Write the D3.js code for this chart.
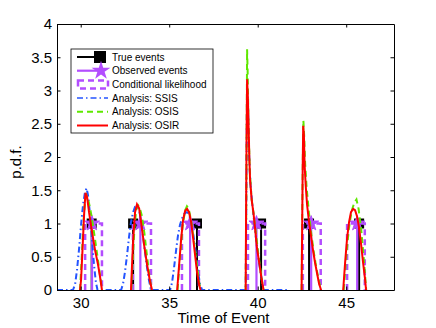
<!DOCTYPE html>
<html lang="en">

<head>
    <meta charset="UTF-8">
    <title>Time of Event p.d.f.</title>
    <script src="https://cdn.jsdelivr.net/npm/d3@7/dist/d3.min.js"></script>
    <style>
        body { margin: 0; background: #fff; }
        svg text { font-family: 'Liberation Sans', Arial, Helvetica, sans-serif; }
    </style>
</head>

<body>
    <svg width="436" height="328" id="mainsvg"></svg>
</body>
<script>
    // event times
    const trueEvents = [30.62, 32.96, 36.57, 40.19, 42.90, 45.73];
    const observedEvents = [30.64, 33.37, 36.18, 39.93, 43.02, 45.62];
    // conditional likelihood bars (left / right edge, height)
    const likeLeft = [30.25, 32.95, 35.72, 39.45, 42.55, 45.05];
    const likeRight = [31.20, 33.97, 36.68, 40.42, 43.56, 46.05];
    const likeHeight = [1, 1, 1, 1, 1, 1];

    // Analysis: SSIS (one trace, flat between events, stops after 4th event)
    const ssis = [
        [28.66, 0], [29.56, 0], [29.68, 0.08], [29.79, 0.30], [29.90, 0.60], [30.02, 0.98], [30.13, 1.28],
        [30.24, 1.47], [30.33, 1.53], [30.41, 1.43], [30.53, 1.13], [30.64, 0.75], [30.75, 0.38],
        [30.86, 0.11], [30.95, 0],
        [32.28, 0], [32.39, 0.09], [32.50, 0.27], [32.62, 0.53], [32.73, 0.80], [32.84, 1.02], [32.96, 1.17],
        [33.07, 1.25], [33.18, 1.26], [33.30, 1.20], [33.41, 1.05], [33.52, 0.81], [33.64, 0.56],
        [33.75, 0.33], [33.86, 0.14], [33.97, 0],
        [35.05, 0], [35.16, 0.11], [35.27, 0.33], [35.39, 0.60], [35.50, 0.83], [35.61, 0.98], [35.73, 1.08],
        [35.84, 1.14], [35.95, 1.17], [36.07, 1.16], [36.18, 1.08], [36.29, 0.96], [36.41, 0.75],
        [36.52, 0.51], [36.63, 0.27], [36.74, 0.09], [36.86, 0],
        [39.32, 0], [39.35, 1.1], [39.38, 2.4], [39.40, 3.0], [39.45, 2.8], [39.52, 2.0], [39.60, 1.55],
        [39.75, 1.15], [39.90, 0.78], [40.08, 0.40], [40.25, 0.12], [40.34, 0],
        [41.70, 0]
    ];

    // Analysis: OSIS, one array per event
    const osis = [
        [[29.96, 0], [30.05, 0.45], [30.15, 1.0], [30.25, 1.35], [30.33, 1.42], [30.45, 1.33], [30.60, 1.13],
         [30.80, 0.78], [31.00, 0.40], [31.15, 0.10], [31.20, 0]],
        [[32.86, 0], [32.95, 0.50], [33.05, 1.0], [33.15, 1.22], [33.25, 1.27], [33.35, 1.22], [33.45, 1.12],
         [33.60, 0.85], [33.75, 0.50], [33.90, 0.18], [34.00, 0]],
        [[35.47, 0], [35.60, 0.45], [35.75, 0.95], [35.90, 1.20], [36.00, 1.26], [36.10, 1.22], [36.25, 1.03],
         [36.40, 0.72], [36.55, 0.40], [36.70, 0.10], [36.76, 0]],
        [[39.32, 0], [39.35, 1.2], [39.38, 2.6], [39.40, 3.62], [39.43, 3.3], [39.48, 2.5], [39.55, 1.8],
         [39.65, 1.38], [39.78, 1.12], [39.90, 0.85], [40.05, 0.50], [40.20, 0.22], [40.32, 0]],
        [[42.48, 0], [42.51, 1.0], [42.55, 2.0], [42.58, 2.55], [42.62, 2.35], [42.68, 1.9], [42.76, 1.55],
         [42.88, 1.20], [43.00, 0.90], [43.15, 0.60], [43.30, 0.35], [43.45, 0.15], [43.57, 0]],
        [[44.86, 0], [45.00, 0.50], [45.15, 0.92], [45.30, 1.18], [45.45, 1.31], [45.58, 1.36], [45.70, 1.22],
         [45.85, 0.90], [46.00, 0.45], [46.10, 0.10], [46.13, 0]]
    ];

    // Analysis: OSIR, one array per event
    const osir = [
        [[29.96, 0], [30.02, 0.15], [30.10, 0.60], [30.19, 1.13], [30.27, 1.46], [30.36, 1.40], [30.47, 1.17],
         [30.64, 0.87], [30.81, 0.60], [30.98, 0.38], [31.12, 0.15], [31.20, 0]],
        [[32.84, 0], [32.90, 0.38], [32.98, 0.83], [33.07, 1.17], [33.18, 1.29], [33.30, 1.23], [33.41, 1.02],
         [33.58, 0.68], [33.75, 0.38], [33.92, 0.12], [34.03, 0]],
        [[35.45, 0], [35.56, 0.38], [35.67, 0.75], [35.78, 1.05], [35.90, 1.19], [36.01, 1.22], [36.12, 1.17],
         [36.24, 1.02], [36.35, 0.78], [36.46, 0.53], [36.57, 0.27], [36.69, 0.08], [36.77, 0]],
        [[39.32, 0], [39.34, 1.05], [39.37, 2.26], [39.40, 3.17], [39.44, 2.93], [39.49, 2.41], [39.53, 1.95],
         [39.57, 1.65], [39.66, 1.35], [39.76, 1.16], [39.86, 0.90], [39.95, 0.65], [40.08, 0.42],
         [40.23, 0.15], [40.33, 0]],
        [[42.48, 0], [42.51, 0.90], [42.54, 1.80], [42.57, 2.47], [42.61, 2.33], [42.65, 1.88], [42.71, 1.58],
         [42.79, 1.28], [42.90, 1.02], [43.02, 0.80], [43.13, 0.59], [43.24, 0.41], [43.36, 0.24],
         [43.47, 0.09], [43.58, 0]],
        [[44.83, 0], [44.94, 0.42], [45.05, 0.78], [45.16, 1.02], [45.27, 1.17], [45.39, 1.22], [45.50, 1.20],
         [45.61, 1.11], [45.73, 0.93], [45.84, 0.69], [45.95, 0.42], [46.07, 0.15], [46.12, 0]]
    ];

    const xTicks = [30, 35, 40, 45];
    const yTicks = [0, 0.5, 1, 1.5, 2, 2.5, 3, 3.5, 4];
    const legendLabels = ['True events', 'Observed events', 'Conditional likelihood',
        'Analysis: SSIS', 'Analysis: OSIS', 'Analysis: OSIR'];

    const purple = '#b34dff'
    const blue = '#2454ff'
    const green = '#5fe800'
    const red = '#ff0000'

    const svg = d3.select('#mainsvg')
    const width = +svg.attr('width')
    const height = +svg.attr('height')
    const margin = { top: 24, right: 42, bottom: 38, left: 57 }
    const innerWidth = width - margin.left - margin.right;
    const innerHeight = height - margin.top - margin.bottom;

    const g = svg.append('g').attr('id', 'maingroup')
        .attr('transform', `translate(${margin.left},${margin.top})`)

    const xScale = d3.scaleLinear().domain([28.66, 47.7]).range([0, innerWidth])
    const yScale = d3.scaleLinear().domain([0, 4]).range([innerHeight, 0])

    const line = d3.line().x(d => xScale(d[0])).y(d => yScale(d[1]))

    // true events: black stems with squares
    g.selectAll('.truestem').data(trueEvents).enter().append('line')
        .attr('x1', d => xScale(d)).attr('x2', d => xScale(d))
        .attr('y1', yScale(0)).attr('y2', yScale(1))
        .attr('stroke', 'black').attr('stroke-width', 2)
    g.selectAll('.truemark').data(trueEvents).enter().append('rect')
        .attr('x', d => xScale(d) - 5).attr('y', yScale(1) - 5)
        .attr('width', 10).attr('height', 10).attr('fill', 'black')

    // observed events: purple stems with stars
    g.selectAll('.obsstem').data(observedEvents).enter().append('line')
        .attr('x1', d => xScale(d)).attr('x2', d => xScale(d))
        .attr('y1', yScale(0)).attr('y2', yScale(1))
        .attr('stroke', purple).attr('stroke-width', 2.2)
    const star = d3.symbol().type(d3.symbolStar).size(70)
    g.selectAll('.obsmark').data(observedEvents).enter().append('path')
        .attr('d', star)
        .attr('transform', d => `translate(${xScale(d)},${yScale(1)})`)
        .attr('fill', purple).attr('stroke', purple).attr('stroke-width', 1)

    // conditional likelihood bars
    g.selectAll('.likebar').data(likeLeft).enter().append('path')
        .attr('d', (d, i) => line([[d, 0], [d, likeHeight[i]], [likeRight[i], likeHeight[i]], [likeRight[i], 0]]))
        .attr('fill', 'none').attr('stroke', purple).attr('stroke-width', 2.5)
        .attr('stroke-dasharray', '6,4')

    // analysis curves
    g.append('path').attr('d', line(ssis))
        .attr('fill', 'none').attr('stroke', blue).attr('stroke-width', 2)
        .attr('stroke-dasharray', '6,3,1.5,3')
    g.selectAll('.osis').data(osis).enter().append('path')
        .attr('d', line)
        .attr('fill', 'none').attr('stroke', green).attr('stroke-width', 2)
        .attr('stroke-dasharray', '6,4')
    g.selectAll('.osir').data(osir).enter().append('path')
        .attr('d', line)
        .attr('fill', 'none').attr('stroke', red).attr('stroke-width', 2)

    // axes with box and inward ticks
    const xAxis = d3.axisBottom(xScale).tickValues(xTicks).tickSize(-3.5).tickSizeOuter(0).tickPadding(7)
    const yAxis = d3.axisLeft(yScale).tickValues(yTicks).tickSize(-3.5).tickSizeOuter(0).tickPadding(5)
        .tickFormat(d => d)
    g.append('g').call(xAxis).attr('transform', `translate(0,${innerHeight})`)
    g.append('g').call(yAxis)
    g.append('g').call(d3.axisTop(xScale).tickValues(xTicks).tickSize(-3.5).tickSizeOuter(0).tickFormat(''))
    g.append('g').call(d3.axisRight(yScale).tickValues(yTicks).tickSize(-3.5).tickSizeOuter(0).tickFormat(''))
        .attr('transform', `translate(${innerWidth},0)`)
    g.selectAll('.domain').attr('stroke', 'black').attr('stroke-width', 1)
    g.selectAll('.tick line').attr('stroke', 'black')
    g.selectAll('.tick text').attr('font-size', '15px').attr('fill', 'black')
        .attr('font-family', "'Liberation Sans', Arial, sans-serif")

    g.append('text').text('Time of Event')
        .attr('x', innerWidth / 2 - 2).attr('y', innerHeight + 33)
        .attr('text-anchor', 'middle').attr('font-size', '15px')
    g.append('text').text('p.d.f.')
        .attr('transform', `translate(-36,${innerHeight / 2 + 5}) rotate(-90)`)
        .attr('text-anchor', 'middle').attr('font-size', '15px')

    // legend
    const lg = g.append('g').attr('transform', `translate(${71 - margin.left},${49 - margin.top})`)
    lg.append('rect').attr('width', 142).attr('height', 84)
        .attr('fill', 'white').attr('stroke', 'black').attr('stroke-width', 0.8)
    const rowY = i => 8 + i * 13.7
    legendLabels.forEach((label, i) => {
        lg.append('text').text(label).attr('x', 41).attr('y', rowY(i) + 3.6).attr('font-size', '10px')
    })
    lg.append('line').attr('x1', 6).attr('x2', 28).attr('y1', rowY(0)).attr('y2', rowY(0))
        .attr('stroke', 'black').attr('stroke-width', 2)
    lg.append('rect').attr('x', 23).attr('y', rowY(0) - 6).attr('width', 12).attr('height', 12).attr('fill', 'black')
    lg.append('line').attr('x1', 6).attr('x2', 29).attr('y1', rowY(1)).attr('y2', rowY(1))
        .attr('stroke', purple).attr('stroke-width', 2.2)
    lg.append('path').attr('d', d3.symbol().type(d3.symbolStar).size(110))
        .attr('transform', `translate(30,${rowY(1)})`).attr('fill', purple)
    lg.append('rect').attr('x', 7).attr('y', rowY(2) - 4).attr('width', 30).attr('height', 8)
        .attr('fill', 'none').attr('stroke', purple).attr('stroke-width', 2.5).attr('stroke-dasharray', '6,4')
    lg.append('line').attr('x1', 6).attr('x2', 37).attr('y1', rowY(3)).attr('y2', rowY(3))
        .attr('stroke', blue).attr('stroke-width', 1.5).attr('stroke-dasharray', '6,3,1.5,3')
    lg.append('line').attr('x1', 6).attr('x2', 37).attr('y1', rowY(4)).attr('y2', rowY(4))
        .attr('stroke', green).attr('stroke-width', 2).attr('stroke-dasharray', '6,4')
    lg.append('line').attr('x1', 6).attr('x2', 37).attr('y1', rowY(5)).attr('y2', rowY(5))
        .attr('stroke', red).attr('stroke-width', 2)
</script>

</html>
